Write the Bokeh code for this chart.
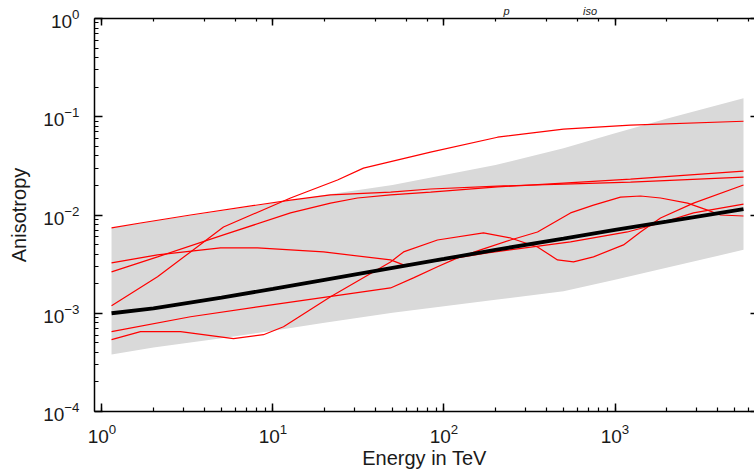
from bokeh.plotting import figure
from bokeh.models import LogAxis, Range1d
from bokeh.embed import file_html
from bokeh.resources import INLINE

# ---- data (energy in TeV, anisotropy) ----
band_energy = [1.137, 2, 5, 10, 20, 50, 100, 200, 500, 1000, 2000, 5642]
band_upper = [7.38e-3, 8.69e-3, 1.10e-2, 1.32e-2, 1.60e-2, 2.02e-2, 2.55e-2,
              3.22e-2, 4.79e-2, 6.79e-2, 9.55e-2, 0.154]
band_lower = [3.80e-4, 4.47e-4, 5.57e-4, 6.64e-4, 8.02e-4, 1.01e-3, 1.18e-3,
              1.37e-3, 1.67e-3, 2.19e-3, 2.90e-3, 4.42e-3]

mean_energy = [1.137, 2, 5, 10, 20, 50, 100, 200, 500, 1000, 2000, 5642]
mean_aniso = [1.0e-3, 1.12e-3, 1.44e-3, 1.77e-3, 2.19e-3, 2.90e-3, 3.57e-3,
              4.42e-3, 5.74e-3, 7.05e-3, 8.55e-3, 1.15e-2]

r1_energy = [1.137, 2.112, 3.293, 5.134, 12.66, 23.84, 33.8, 83.4, 205.6, 499.7, 1232, 5642]
r1_aniso = [0.00119, 0.00235, 0.00421, 0.00755, 0.0149, 0.0227, 0.0300, 0.0436,
            0.0619, 0.0747, 0.0820, 0.0900]

r2_energy = [1.137, 1.680, 3.293, 12.66, 21.70, 48.7, 83.4, 205.6, 499.7, 1232, 5642]
r2_aniso = [0.00738, 0.00829, 0.0100, 0.0142, 0.0160, 0.0171, 0.0184, 0.0197,
            0.0206, 0.0216, 0.0243]

r3_energy = [1.137, 2.112, 5.134, 12.66, 21.70, 31.2, 48.7, 83.4, 205.6, 499.7, 1232, 5642]
r3_aniso = [0.00264, 0.00375, 0.00627, 0.0105, 0.0132, 0.0149, 0.0160, 0.0171,
            0.0193, 0.0211, 0.0232, 0.0280]

r4_energy = [1.137, 2.112, 4.932, 8.117, 19.74, 48.7, 58.0, 91.6, 179.7, 549.4,
             1183, 1846, 2879, 5642]
r4_aniso = [0.00326, 0.00393, 0.00462, 0.00462, 0.00421, 0.00349, 0.00311, 0.00341,
            0.00411, 0.00532, 0.00672, 0.00829, 0.0105, 0.0129]

r5_energy = [1.137, 3.293, 8.117, 48.7, 66.3, 91.6, 120.0, 163.5, 244.8, 352.2,
             549.4, 748.6, 1077, 1410, 1846, 2655, 3475, 4140, 5642]
r5_aniso = [0.000649, 0.000921, 0.00116, 0.00181, 0.00229, 0.00297, 0.00366,
            0.00441, 0.00557, 0.00672, 0.0105, 0.0126, 0.0152, 0.0156, 0.0149,
            0.0132, 0.0112, 0.0100, 0.00977]

r6_energy = [1.137, 1.680, 2.878, 5.875, 8.800, 11.52, 21.70, 48.7, 58.0, 91.6,
             170.2, 244.8, 352.2, 461.1, 571.9, 748.6, 1121, 1410, 1846, 2879, 5642]
r6_aniso = [0.000538, 0.000649, 0.000649, 0.000551, 0.000605, 0.000729, 0.00147,
            0.00333, 0.00421, 0.00557, 0.00657, 0.00584, 0.00473, 0.00349, 0.00333,
            0.00375, 0.00496, 0.00672, 0.00932, 0.0132, 0.0202]

red_lines = [(r1_energy, r1_aniso), (r2_energy, r2_aniso), (r3_energy, r3_aniso),
             (r4_energy, r4_aniso), (r5_energy, r5_aniso), (r6_energy, r6_aniso)]

title_text = "p" + "\u00a0" * 24 + "iso"

FONT = "Liberation Sans"

p = figure(width=754, height=471, x_axis_type="log", y_axis_type="log",
           x_range=Range1d(0.904, 6543), y_range=Range1d(1e-4, 1),
           output_backend="svg", toolbar_location=None,
           min_border_left=94, min_border_right=0, min_border_top=18,
           min_border_bottom=59,
           x_axis_label="Energy in TeV", y_axis_label="Anisotropy")
p.grid.visible = False
p.outline_line_color = None
p.background_fill_color = "white"
p.border_fill_color = "white"

p.title.text = title_text
p.title.align = "left"
p.title.offset = 409
p.title.standoff = 4
p.title.text_font = FONT
p.title.text_font_size = "11px"
p.title.text_font_style = "italic"
p.title.text_color = "#1a1a1a"

p.varea(x=band_energy, y1=band_lower, y2=band_upper, fill_color="#d9d9d9")
for e, a in red_lines:
    p.line(e, a, line_color="#ff0000", line_width=1.2)
p.line(mean_energy, mean_aniso, line_color="black", line_width=3.8)

for ax in (p.xaxis[0], p.yaxis[0]):
    ax.axis_line_width = 1.5
    ax.axis_line_color = "black"
    ax.major_tick_in = 8
    ax.major_tick_out = 0
    ax.minor_tick_in = 4
    ax.minor_tick_out = 0
    ax.major_tick_line_width = 1.5
    ax.minor_tick_line_width = 1.2
    ax.major_label_text_font = FONT
    ax.major_label_text_font_size = "19px"
    ax.major_label_text_color = "#1a1a1a"
    ax.axis_label_text_font = FONT
    ax.axis_label_text_font_size = "20px"
    ax.axis_label_text_font_style = "normal"
    ax.axis_label_text_color = "#1a1a1a"

p.xaxis[0].major_label_standoff = 12
p.xaxis[0].axis_label_standoff = 1
p.yaxis[0].major_label_standoff = 15
p.yaxis[0].axis_label_standoff = 10

top = LogAxis(axis_line_width=1.5, major_tick_in=7, major_tick_out=0,
              minor_tick_in=3, minor_tick_out=0, major_tick_line_width=1.5,
              minor_tick_line_width=1.2, major_label_text_font_size="1px",
              major_label_text_alpha=0, major_label_standoff=0)
p.add_layout(top, "above")

right = LogAxis(axis_line_color=None, major_tick_in=4, major_tick_out=0,
                minor_tick_in=0, minor_tick_out=0, minor_tick_line_color=None,
                major_tick_line_width=1.5, major_label_text_font_size="1px",
                major_label_text_alpha=0, major_label_standoff=0)
p.add_layout(right, "right")

open("out.html", "w").write(file_html(p, INLINE))
